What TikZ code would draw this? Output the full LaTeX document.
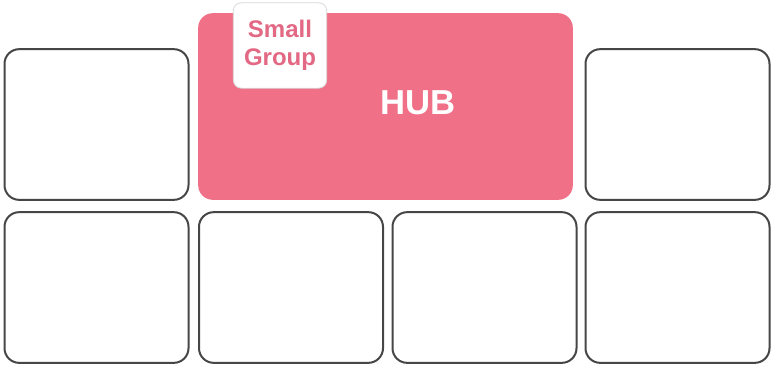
\documentclass[tikz,border=0pt]{standalone}
\usepackage{fontspec}
\setmainfont{Liberation Sans}
\usepackage{tikz}
\usetikzlibrary{positioning}

\definecolor{hubpink}{RGB}{240,112,135}
\definecolor{grouppink}{RGB}{226,104,132}
\definecolor{cellgray}{RGB}{70,70,70}

\tikzset{
  cell/.style={draw=cellgray, line width=1.5pt, rounded corners=11pt, fill=white,
    minimum width=138pt, minimum height=113pt, inner sep=0pt},
  hubbox/.style={fill=hubpink, rounded corners=11pt,
    minimum width=281pt, minimum height=140pt, inner sep=0pt},
  groupbox/.style={draw=black!15, line width=0.6pt, fill=white, rounded corners=6pt,
    minimum width=70pt, minimum height=64pt, inner sep=0pt,
    align=center, text=grouppink, font=\bfseries\fontsize{18}{21}\selectfont}
}

\begin{document}
\begin{tikzpicture}[x=0.75pt,y=-0.75pt]
  \useasboundingbox (0,0) rectangle (774,368);

  % Top row
  \node[cell] (topleft) at (96.5,124.5) {};
  \node[hubbox] (hub) at (385.5,106.5) {};
  \node[cell] (topright) at (677.5,124.5) {};

  % Hub labels
  \node[text=white, font=\bfseries\fontsize{26}{30}\selectfont] (hublabel) at (418,103) {HUB};
  \node[groupbox] (smallgroup) at (280,45.5) {Small\\Group};

  % Bottom row
  \foreach \x/\name in {96.5/bottomA,291/bottomB,484.5/bottomC,677.5/bottomD}{
    \node[cell] (\name) at (\x,287.5) {};
  }
\end{tikzpicture}
\end{document}
